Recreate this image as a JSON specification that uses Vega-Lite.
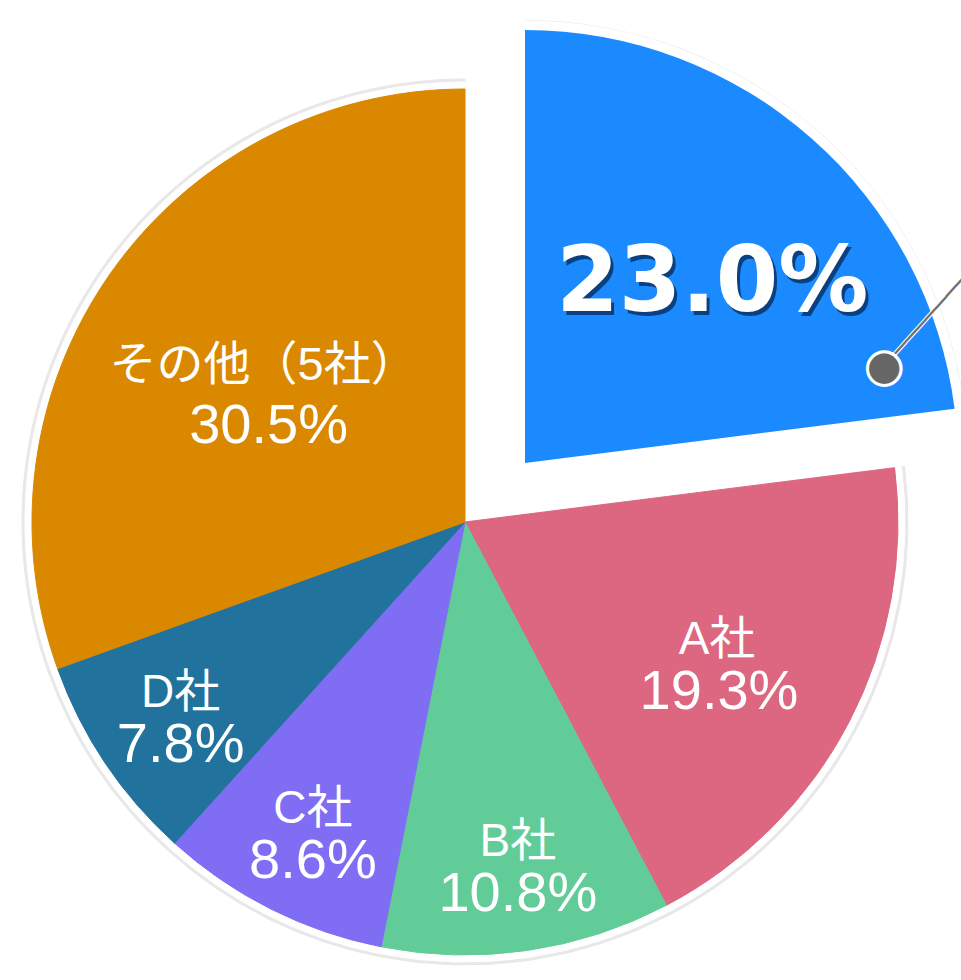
{
  "$schema": "https://vega.github.io/schema/vega-lite/v6.json",
  "width": 930,
  "height": 916,
  "autosize": {"type": "none"},
  "padding": {"left": 0, "top": 64, "right": 31, "bottom": 0},
  "background": "#ffffff",
  "config": {"view": {"stroke": null}},
  "data": {
    "values": [
      {"name": "自社", "share": 0.230, "ord": 0},
      {"name": "A社", "share": 0.193, "ord": 1},
      {"name": "B社", "share": 0.108, "ord": 2},
      {"name": "C社", "share": 0.086, "ord": 3},
      {"name": "D社", "share": 0.078, "ord": 4},
      {"name": "その他（5社）", "share": 0.305, "ord": 5}
    ]
  },
  "layer": [
    {
      "mark": {"type": "arc", "radius": 443, "fill": "#e8e8e8", "stroke": "#e8e8e8", "strokeWidth": 1},
      "encoding": {
        "theta": {"field": "share", "type": "quantitative", "stack": true},
        "order": {"field": "ord"},
        "opacity": {"condition": {"test": "datum.ord === 0", "value": 0}, "value": 1}
      }
    },
    {
      "mark": {"type": "arc", "radius": 440, "fill": "#ffffff", "stroke": "#ffffff", "strokeWidth": 1},
      "encoding": {
        "theta": {"field": "share", "type": "quantitative", "stack": true},
        "order": {"field": "ord"},
        "opacity": {"condition": {"test": "datum.ord === 0", "value": 0}, "value": 1}
      }
    },
    {
      "mark": {"type": "arc", "radius": 433, "strokeWidth": 1},
      "encoding": {
        "theta": {"field": "share", "type": "quantitative", "stack": true},
        "order": {"field": "ord"},
        "color": {
          "field": "name", "type": "nominal", "legend": null,
          "scale": {
            "domain": ["自社", "A社", "B社", "C社", "D社", "その他（5社）"],
            "range": ["#1b8aff", "#dd6680", "#62cc98", "#7f6df4", "#21729d", "#da8800"]
          }
        },
        "stroke": {
          "field": "name", "type": "nominal", "legend": null,
          "scale": {
            "domain": ["自社", "A社", "B社", "C社", "D社", "その他（5社）"],
            "range": ["#1b8aff", "#dd6680", "#62cc98", "#7f6df4", "#21729d", "#da8800"]
          }
        },
        "opacity": {"condition": {"test": "datum.ord === 0", "value": 0}, "value": 1}
      }
    },
    {
      "mark": {"type": "arc", "radius": 443, "fill": "#e8e8e8", "xOffset": 60, "yOffset": -59},
      "encoding": {
        "theta": {"field": "share", "type": "quantitative", "stack": true},
        "order": {"field": "ord"},
        "opacity": {"condition": {"test": "datum.ord === 0", "value": 1}, "value": 0}
      }
    },
    {
      "mark": {"type": "arc", "radius": 440, "fill": "#ffffff", "stroke": "#ffffff", "strokeWidth": 5, "strokeJoin": "round", "xOffset": 60, "yOffset": -59},
      "encoding": {
        "theta": {"field": "share", "type": "quantitative", "stack": true},
        "order": {"field": "ord"},
        "opacity": {"condition": {"test": "datum.ord === 0", "value": 1}, "value": 0}
      }
    },
    {
      "mark": {"type": "arc", "radius": 433, "xOffset": 60, "yOffset": -59},
      "encoding": {
        "theta": {"field": "share", "type": "quantitative", "stack": true},
        "order": {"field": "ord"},
        "color": {"field": "name", "type": "nominal", "legend": null},
        "opacity": {"condition": {"test": "datum.ord === 0", "value": 1}, "value": 0}
      }
    },
    {
      "mark": {"type": "text", "radius": 346, "dx": 3, "dy": -22, "font": "Liberation Sans, Noto Sans CJK JP", "fontSize": 46, "fill": "#ffffff", "baseline": "middle", "align": "center"},
      "encoding": {
        "theta": {"field": "share", "type": "quantitative", "stack": true},
        "order": {"field": "ord"},
        "text": {"field": "name", "type": "nominal"},
        "opacity": {"condition": {"test": "datum.ord >= 2 && datum.ord <= 4", "value": 1}, "value": 0}
      }
    },
    {
      "mark": {"type": "text", "radius": 346, "dx": 3, "dy": 30, "font": "Liberation Sans, Noto Sans CJK JP", "fontSize": 56, "fill": "#ffffff", "baseline": "middle", "align": "center"},
      "encoding": {
        "theta": {"field": "share", "type": "quantitative", "stack": true},
        "order": {"field": "ord"},
        "text": {"field": "share", "type": "quantitative", "format": ".1%"},
        "opacity": {"condition": {"test": "datum.ord >= 2 && datum.ord <= 4", "value": 1}, "value": 0}
      }
    },
    {
      "mark": {"type": "text", "radius": 300, "dx": -14, "dy": -21, "font": "Liberation Sans, Noto Sans CJK JP", "fontSize": 46, "fill": "#ffffff", "baseline": "middle", "align": "center"},
      "encoding": {
        "theta": {"field": "share", "type": "quantitative", "stack": true},
        "order": {"field": "ord"},
        "text": {"field": "name", "type": "nominal"},
        "opacity": {"condition": {"test": "datum.ord === 1", "value": 1}, "value": 0}
      }
    },
    {
      "mark": {"type": "text", "radius": 300, "dx": -12, "dy": 31, "font": "Liberation Sans, Noto Sans CJK JP", "fontSize": 56, "fill": "#ffffff", "baseline": "middle", "align": "center"},
      "encoding": {
        "theta": {"field": "share", "type": "quantitative", "stack": true},
        "order": {"field": "ord"},
        "text": {"field": "share", "type": "quantitative", "format": ".1%"},
        "opacity": {"condition": {"test": "datum.ord === 1", "value": 1}, "value": 0}
      }
    },
    {
      "mark": {"type": "text", "radius": 245, "dx": -1, "dy": -15, "font": "Liberation Sans, Noto Sans CJK JP", "fontSize": 47, "fill": "#ffffff", "baseline": "middle", "align": "center"},
      "encoding": {
        "theta": {"field": "share", "type": "quantitative", "stack": true},
        "order": {"field": "ord"},
        "text": {"field": "name", "type": "nominal"},
        "opacity": {"condition": {"test": "datum.ord === 5", "value": 1}, "value": 0}
      }
    },
    {
      "mark": {"type": "text", "radius": 245, "dx": 4, "dy": 45, "font": "Liberation Sans, Noto Sans CJK JP", "fontSize": 56, "fill": "#ffffff", "baseline": "middle", "align": "center"},
      "encoding": {
        "theta": {"field": "share", "type": "quantitative", "stack": true},
        "order": {"field": "ord"},
        "text": {"field": "share", "type": "quantitative", "format": ".1%"},
        "opacity": {"condition": {"test": "datum.ord === 5", "value": 1}, "value": 0}
      }
    },
    {
      "mark": {"type": "text", "radius": 250, "xOffset": 60, "yOffset": -59, "dx": 25, "dy": 13, "font": "DejaVu Sans", "fontWeight": "bold", "fontSize": 90, "fill": "#0a4080", "baseline": "middle", "align": "center"},
      "encoding": {
        "theta": {"field": "share", "type": "quantitative", "stack": true},
        "order": {"field": "ord"},
        "text": {"field": "share", "type": "quantitative", "format": ".1%"},
        "opacity": {"condition": {"test": "datum.ord === 0", "value": 1}, "value": 0}
      }
    },
    {
      "mark": {"type": "text", "radius": 250, "xOffset": 60, "yOffset": -59, "dx": 22, "dy": 9, "font": "DejaVu Sans", "fontWeight": "bold", "fontSize": 90, "fill": "#ffffff", "baseline": "middle", "align": "center"},
      "encoding": {
        "theta": {"field": "share", "type": "quantitative", "stack": true},
        "order": {"field": "ord"},
        "text": {"field": "share", "type": "quantitative", "format": ".1%"},
        "opacity": {"condition": {"test": "datum.ord === 0", "value": 1}, "value": 0}
      }
    },
    {
      "transform": [{"filter": "datum.ord === 0"}],
      "mark": {"type": "text", "text": "━━━━━━━━", "theta": 1.309, "radius": 372, "xOffset": 60, "yOffset": -59, "angle": -48, "font": "DejaVu Sans", "fontSize": 26, "fill": "#ffffff", "baseline": "middle", "align": "left"},
      "encoding": {}
    },
    {
      "transform": [{"filter": "datum.ord === 0"}],
      "mark": {"type": "text", "text": "────────", "theta": 1.309, "radius": 372, "xOffset": 60, "yOffset": -59, "angle": -48, "font": "DejaVu Sans", "fontSize": 26, "fill": "#707070", "baseline": "middle", "align": "left"},
      "encoding": {}
    },
    {
      "transform": [{"filter": "datum.ord === 0"}],
      "mark": {"type": "text", "text": "●", "theta": 1.309, "radius": 372, "xOffset": 60, "yOffset": -59, "font": "DejaVu Sans", "fontSize": 44, "fill": "#666666", "stroke": "#ffffff", "strokeWidth": 3, "baseline": "middle", "align": "center"},
      "encoding": {}
    }
  ]
}
